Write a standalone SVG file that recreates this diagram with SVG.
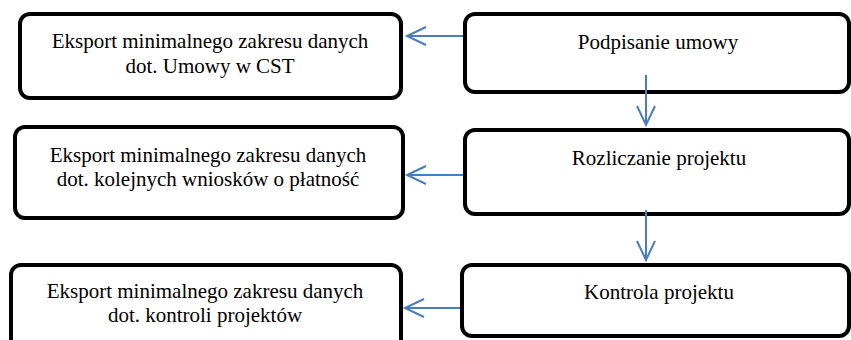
<svg xmlns="http://www.w3.org/2000/svg" width="851" height="340" viewBox="0 0 851 340">
  <style>
    .box { fill: #ffffff; stroke: #000000; stroke-width: 4; }
    .lbl { font-family: 'Liberation Serif', 'Times New Roman', 'DejaVu Serif', serif; font-size: 21px; fill: #000000; text-anchor: middle; }
    .conn { fill: none; stroke: #4a7ebb; stroke-width: 2; }
  </style>
  <defs>
    <marker id="arrow" markerUnits="userSpaceOnUse" markerWidth="24" markerHeight="24" viewBox="-21 -12 24 24" refX="0" refY="0" orient="auto">
      <path d="M-19,-9 L0,0 L-19,9" fill="none" stroke="#4a7ebb" stroke-width="2"/>
    </marker>
  </defs>

  <g id="node-eksport-umowa">
    <rect class="box" x="20" y="14" width="381" height="84" rx="10"/>
    <text class="lbl" x="210" y="48" font-family="Liberation Serif, serif">Eksport minimalnego zakresu danych</text>
    <text class="lbl" x="210" y="73" font-family="Liberation Serif, serif">dot. Umowy w CST</text>
  </g>
  <g id="node-podpisanie">
    <rect class="box" x="465" y="14" width="384" height="78" rx="10"/>
    <text class="lbl" x="658" y="49">Podpisanie umowy</text>
  </g>
  <g id="node-eksport-wnioski">
    <rect class="box" x="15" y="127" width="388" height="91" rx="10"/>
    <text class="lbl" x="208" y="162">Eksport minimalnego zakresu danych</text>
    <text class="lbl" x="208" y="186">dot. kolejnych wniosków o płatność</text>
  </g>
  <g id="node-rozliczanie">
    <rect class="box" x="465" y="130" width="384" height="84" rx="10"/>
    <text class="lbl" x="659" y="165">Rozliczanie projektu</text>
  </g>
  <g id="node-eksport-kontrola">
    <rect class="box" x="11" y="265" width="390" height="90" rx="10"/>
    <text class="lbl" x="205" y="298">Eksport minimalnego zakresu danych</text>
    <text class="lbl" x="205" y="322">dot. kontroli projektów</text>
  </g>
  <g id="node-kontrola">
    <rect class="box" x="462" y="265" width="387" height="71" rx="10"/>
    <text class="lbl" x="659" y="299">Kontrola projektu</text>
  </g>

  <g id="connectors">
    <line class="conn" x1="463" y1="36" x2="407" y2="36" marker-end="url(#arrow)"/>
    <line class="conn" x1="646" y1="75" x2="646" y2="125" marker-end="url(#arrow)"/>
    <line class="conn" x1="463" y1="175" x2="407" y2="175" marker-end="url(#arrow)"/>
    <line class="conn" x1="646" y1="210" x2="646" y2="260" marker-end="url(#arrow)"/>
    <line class="conn" x1="460" y1="308" x2="405" y2="308" marker-end="url(#arrow)"/>
  </g>
</svg>
